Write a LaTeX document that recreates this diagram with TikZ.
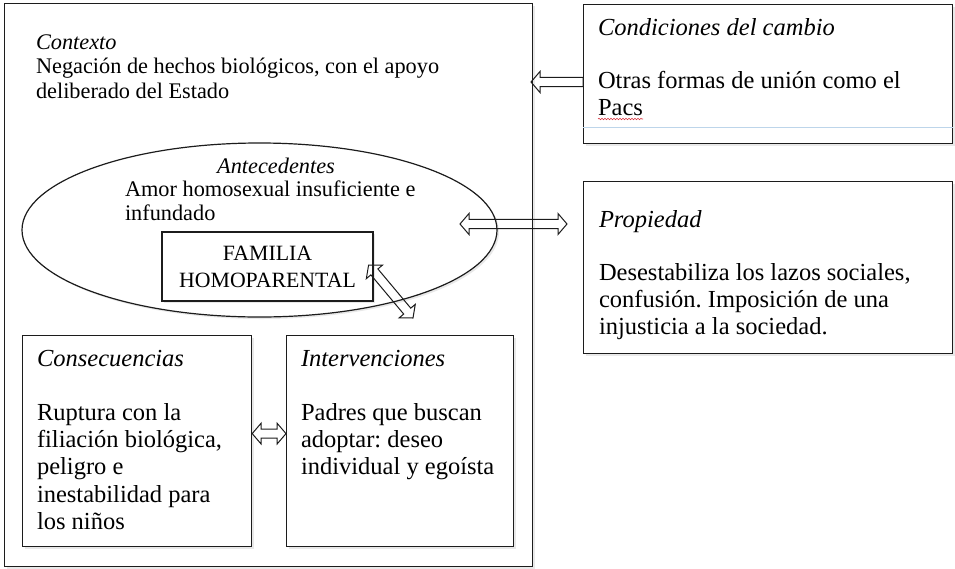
\documentclass[tikz,border=0pt]{standalone}
\usepackage{fontspec}
\setmainfont{Liberation Serif}
\usepackage{tikz}
\usetikzlibrary{calc,shadows,shapes.geometric,decorations.pathmorphing}
\frenchspacing
\definecolor{DiagInk}{HTML}{1C1C1C}
\definecolor{DiagShade}{HTML}{9A9A9A}
\definecolor{DiagBlue}{HTML}{BDD5EA}
\definecolor{DiagRed}{HTML}{D8323C}
\newcommand{\BoxText}{\fontsize{24.5}{27.2}\selectfont}
\newcommand{\CtxText}{\fontsize{22.3}{24.3}\selectfont}
\newcommand{\FamText}{\fontsize{21.8}{27}\selectfont}
\newcommand{\ArrowHead}{10.5pt}
\newcommand{\ArrowShaft}{4.6pt}
\newcommand{\ArrowTip}{9pt}
\tikzset{
  soft shadow/.style={drop shadow={shadow xshift=2pt,shadow yshift=-2pt,opacity=0.22,fill=DiagShade}},
  frame box/.style={draw=DiagInk,line width=1.2pt,fill=white,inner sep=0pt,anchor=north west,soft shadow},
  oval box/.style={ellipse,draw=DiagInk,line width=1.2pt,fill=white,inner sep=0pt,soft shadow},
  body text/.style={anchor=north west,align=left,inner sep=0pt,outer sep=0pt,text=black},
  block arrow/.style={draw=DiagInk,line width=1pt,fill=none,line join=miter}
}
% hollow arrow with a head at both ends
\newcommand{\BlockArrowTwo}[2]{%
  \coordinate (ha) at ($(#1)!\ArrowTip!(#2)$);
  \coordinate (hb) at ($(#2)!\ArrowTip!(#1)$);
  \draw[block arrow] (#1)
    -- ($(ha)!\ArrowHead!90:(#2)$) -- ($(ha)!\ArrowShaft!90:(#2)$)
    -- ($(hb)!\ArrowShaft!-90:(#1)$) -- ($(hb)!\ArrowHead!-90:(#1)$)
    -- (#2)
    -- ($(hb)!\ArrowHead!90:(#1)$) -- ($(hb)!\ArrowShaft!90:(#1)$)
    -- ($(ha)!\ArrowShaft!-90:(#2)$) -- ($(ha)!\ArrowHead!-90:(#2)$)
    -- cycle;
}
% hollow arrow, tail #1, tip #2
\newcommand{\BlockArrowOne}[2]{%
  \coordinate (hb) at ($(#2)!\ArrowTip!(#1)$);
  \draw[block arrow] ($(#1)!\ArrowShaft!90:(#2)$)
    -- ($(hb)!\ArrowShaft!-90:(#1)$) -- ($(hb)!\ArrowHead!-90:(#1)$)
    -- (#2)
    -- ($(hb)!\ArrowHead!90:(#1)$) -- ($(hb)!\ArrowShaft!90:(#1)$)
    -- ($(#1)!\ArrowShaft!-90:(#2)$) -- cycle;
}

\begin{document}
\begin{tikzpicture}[x=1pt,y=-1pt]
  \useasboundingbox (0,0) rectangle (955,568);

  % context frame
  \node[frame box,minimum width=528pt,minimum height=563pt] (ctx) at (4,3) {};
  \node[body text,font=\CtxText] (ctxtxt) at (36,32.5)
    {\strut\textit{Contexto}\\Negación de hechos biológicos, con el apoyo\\deliberado del Estado};

  % antecedents
  \node[oval box,minimum width=475pt,minimum height=174pt] (antec) at (259.5,230) {};
  \node[anchor=base,inner sep=0pt,font=\itshape\CtxText] (antectitle) at (276,173) {Antecedentes};
  \node[body text,font=\CtxText] (antectxt) at (125,179)
    {\strut Amor homosexual insuficiente e\\infundado};
  \node[frame box,anchor=center,minimum width=211pt,minimum height=69pt,
    align=center,font=\FamText] (fam) at (267.5,266.5) {FAMILIA\\HOMOPARENTAL};

  % lower boxes
  \node[frame box,minimum width=229pt,minimum height=211pt] (cons) at (22,335) {};
  \node[body text,font=\BoxText] (constxt) at (37,347)
    {\strut\textit{Consecuencias}\\[27.2pt]Ruptura con la\\filiación biológica,\\peligro e\\inestabilidad para\\los niños};
  \node[frame box,minimum width=227pt,minimum height=211pt] (interv) at (286,335) {};
  \node[body text,font=\BoxText] (intervtxt) at (301,347)
    {\strut\textit{Intervenciones}\\[27.2pt]Padres que buscan\\adoptar: deseo\\individual y egoísta};

  % right boxes
  \node[frame box,minimum width=369pt,minimum height=139pt] (cond) at (583,4) {};
  \draw[DiagBlue,line width=0.8pt] ([yshift=-123pt]cond.north west) -- ([yshift=-123pt]cond.north east);
  \node[body text,font=\BoxText] (condtxt) at (598,16)
    {\strut\textit{Condiciones del cambio}\\[26.2pt]Otras formas de unión como el\\Pacs};
  \draw[DiagRed,line width=0.6pt,decorate,decoration={snake,amplitude=0.7pt,segment length=3pt}]
    (598,119) -- (643,119);
  \node[frame box,minimum width=369pt,minimum height=172pt] (prop) at (583,181) {};
  \node[body text,font=\BoxText] (proptxt) at (599,208)
    {\strut\textit{Propiedad}\\[26.3pt]Desestabiliza los lazos sociales,\\confusión. Imposición de una\\injusticia a la sociedad.};

  % arrows
  \coordinate (condtail) at (583,82);
  \coordinate (condtip) at (531,82);
  \BlockArrowOne{condtail}{condtip}
  \coordinate (propleft) at (460,224);
  \coordinate (propright) at (567,224);
  \BlockArrowTwo{propleft}{propright}
  \coordinate (famtip) at ([xshift=-5pt,yshift=1.5pt]fam.east);
  \coordinate (famfoot) at (413,318);
  \BlockArrowTwo{famtip}{famfoot}
  \coordinate (consright) at ([yshift=7.5pt]cons.east);
  \coordinate (intervleft) at ([yshift=7.5pt]interv.west);
  \BlockArrowTwo{consright}{intervleft}
\end{tikzpicture}
\end{document}
